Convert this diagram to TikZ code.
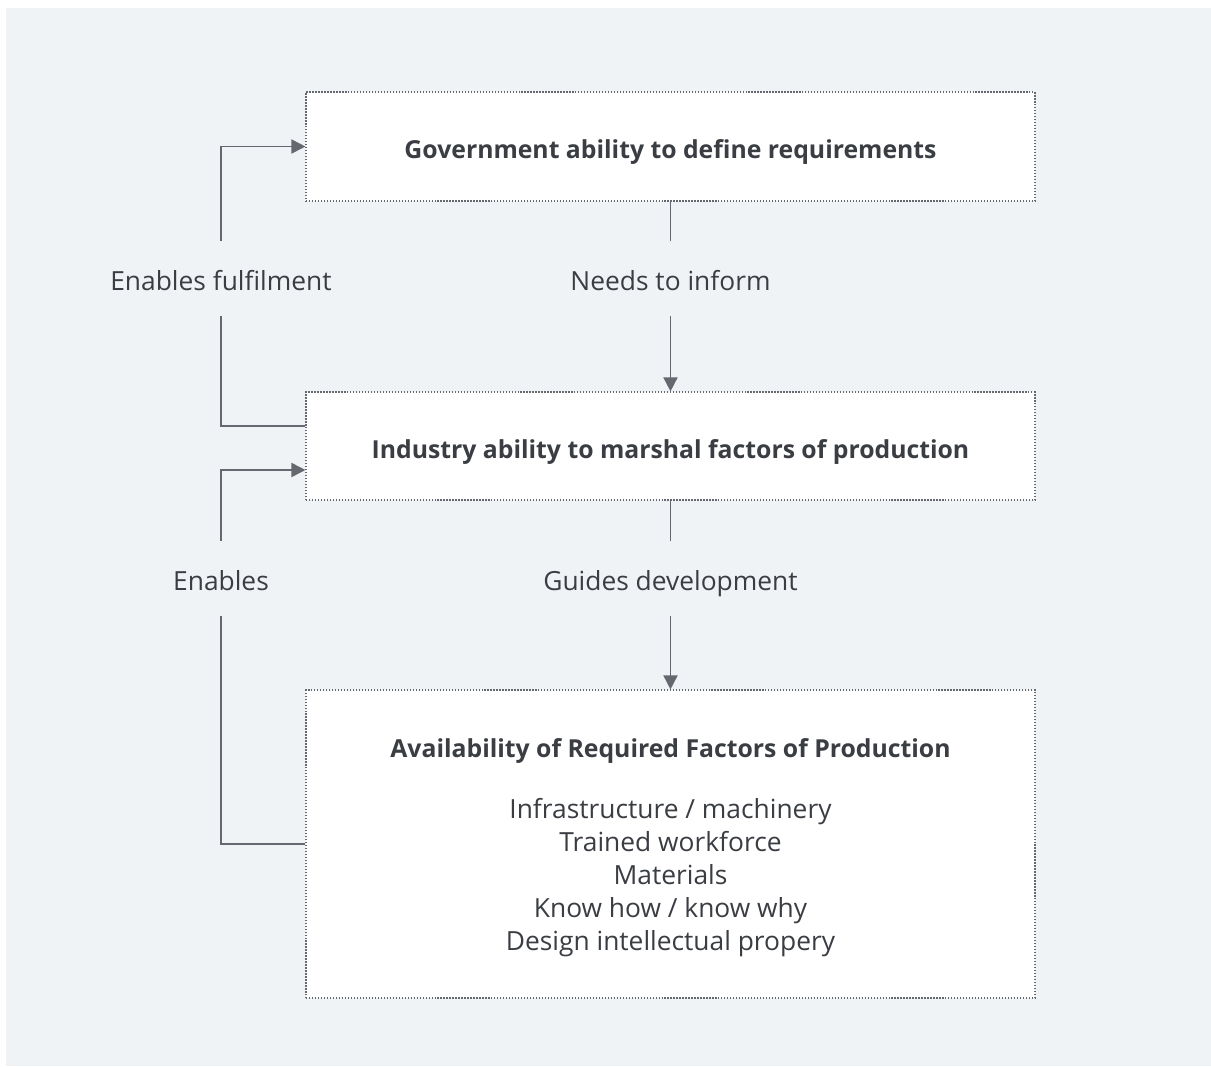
\documentclass[tikz,border=0pt]{standalone}
\usepackage{fontspec}
\setmainfont{Open Sans}
\usetikzlibrary{arrows.meta}
\definecolor{bgcol}{HTML}{F0F3F6}
\definecolor{linecol}{HTML}{65696F}
\definecolor{txtcol}{HTML}{3A3D42}
\begin{document}
\begin{tikzpicture}[x=0.02cm,y=-0.02cm,
  box/.style={draw=linecol,densely dotted,line width=0.7pt,fill=white,
    minimum width=14.58cm,text=txtcol,font=\fontsize{14.1}{18.7}\selectfont\bfseries},
  title/.style={box,text height=13.8pt,text depth=0pt},
  lab/.style={inner sep=0pt,text height=1.6ex,text depth=0.4ex,text=txtcol,
    font=\fontsize{15}{18}\selectfont},
  conn/.style={draw=linecol,line width=1pt,-{Triangle[length=8pt,width=8pt]}},
  plain/.style={draw=linecol,line width=1pt}]

\fill[white] (0,0) rectangle (1211,1066);
\fill[bgcol] (6,8) rectangle (1211,1066);
\useasboundingbox (0,0) rectangle (1211,1066);

  \node[title,minimum height=2.18cm] (gov) at (670.5,146.5) {Government ability to define requirements};
  \node[title,minimum height=2.16cm] (ind) at (670.5,446) {Industry ability to marshal factors of production};
  \node[box,minimum height=6.16cm,align=center] (avail) at (670.5,844)
    {\rule{0pt}{15pt}Availability of Required Factors of Production\\[0.56cm]
     \mdseries\fontsize{15}{19}\selectfont Infrastructure / machinery\\
     \mdseries\fontsize{15}{19}\selectfont Trained workforce\\
     \mdseries\fontsize{15}{19}\selectfont Materials\\
     \mdseries\fontsize{15}{19}\selectfont Know how / know why\\
     \mdseries\fontsize{15}{19}\selectfont Design intellectual propery};
  \node[lab] (inform) at (670.5,285) {Needs to inform};
  \node[lab] (guides) at (670.5,585) {Guides development};
  \node[lab] (fulfil) at (221,285) {Enables fulfilment};
  \node[lab] (enables) at (221,585) {Enables};

  \draw[plain,shorten >=0.68cm] (gov) -- (inform);
  \draw[conn,shorten <=0.42cm] (inform) -- (ind);
  \draw[plain,shorten >=0.68cm] (ind) -- (guides);
  \draw[conn,shorten <=0.42cm] (guides) -- (avail);
  \draw[plain,shorten >=0.42cm] ([yshift=0.4cm]ind.west) -| (fulfil);
  \draw[conn,shorten <=0.68cm] (fulfil) |- (gov.west);
  \draw[plain,shorten >=0.42cm] (avail.west) -| (enables);
  \draw[conn,shorten <=0.68cm] (enables) |- ([yshift=-0.48cm]ind.west);
 \end{tikzpicture}
\end{document}
